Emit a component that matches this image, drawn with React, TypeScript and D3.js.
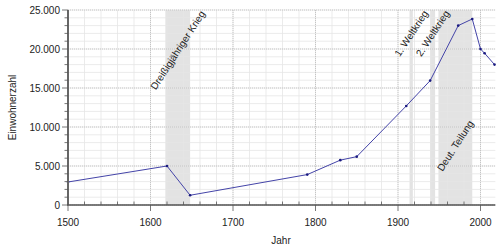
import React from "react";
import * as d3 from "d3";

const years = [1500, 1620, 1648, 1790, 1830, 1850, 1910, 1939, 1973, 1990, 2000, 2005, 2017];
const population = [2950, 5000, 1250, 3900, 5750, 6200, 12700, 15950, 23000, 23850, 20000, 19450, 18000];

const periodLabels = ["Dreißigjähriger Krieg", "1. Weltkrieg", "2. Weltkrieg", "Deut. Teilung"];
const periodStart = [1618, 1914, 1939, 1949];
const periodEnd = [1648, 1918, 1945, 1990];
const periodAtTop = [true, true, true, false];

const yMajorTicks = [0, 5000, 10000, 15000, 20000, 25000];
const xMajorTicks = [1500, 1600, 1700, 1800, 1900, 2000];

const W = 500, H = 250;
const left = 68, right = 495.35, top = 10, bottom = 205;

export default function App() {
  const x = d3.scaleLinear().domain([1500, 2018]).range([left, right]);
  const y = d3.scaleLinear().domain([0, 25000]).range([bottom, top]);
  const xMinor = d3.range(1500, 2019, 20);
  const yMinor = d3.range(0, 25001, 1000);
  const fmt = (v: number) => d3.format(",")(v).replace(/,/g, ".");
  const line = d3.line<number>().x((_, i) => x(years[i])).y((d) => y(d));
  const font = "'Liberation Sans', Arial, sans-serif";
  const angle = -57;
  const rad = (Math.abs(angle) * Math.PI) / 180;
  const charW = 4.45;

  return (
    <svg width={W} height={H} style={{ position: "absolute", left: 0, top: 0 }} fontFamily={font}>
      <rect width={W} height={H} fill="#fff" />
      {periodStart.map((s, i) => (
        <rect key={"b" + i} x={x(s)} y={top} width={x(periodEnd[i]) - x(s)} height={bottom - top} fill="#e3e3e3" />
      ))}
      {xMinor.map((v) => (
        <line key={"xm" + v} x1={x(v)} x2={x(v)} y1={top} y2={bottom} stroke="#e6e6e6" strokeWidth={0.8} />
      ))}
      {yMinor.map((v) => (
        <line key={"ym" + v} x1={left} x2={right} y1={y(v)} y2={y(v)} stroke="#e6e6e6" strokeWidth={0.8} />
      ))}
      {xMajorTicks.map((v) => (
        <line key={"xM" + v} x1={x(v)} x2={x(v)} y1={top} y2={bottom} stroke="#bbb" strokeWidth={0.8} strokeDasharray="1,1" />
      ))}
      {yMajorTicks.map((v) => (
        <line key={"yM" + v} x1={left} x2={right} y1={y(v)} y2={y(v)} stroke="#bbb" strokeWidth={0.8} strokeDasharray="1,1" />
      ))}
      {periodLabels.map((t, i) => {
        const cx = x((periodStart[i] + periodEnd[i]) / 2);
        const half = (t.length * charW) / 2;
        const cy = periodAtTop[i] ? top + half * Math.sin(rad) + 1 : 170 - half * Math.sin(rad);
        return (
          <text key={"l" + i} transform={`translate(${cx},${cy}) rotate(${angle})`} textAnchor="middle" dominantBaseline="central" fontSize={10} fill="#222">
            {t}
          </text>
        );
      })}
      <path d={line(population) || ""} fill="none" stroke="#4444a8" strokeWidth={1} />
      {population.map((v, i) => (
        <circle key={"p" + i} cx={x(years[i])} cy={y(v)} r={1.3} fill="#1a1a80" />
      ))}
      {/* axes */}
      <line x1={left} x2={left} y1={top} y2={bottom} stroke="#666" strokeWidth={2} />
      <line x1={left - 1} x2={right} y1={bottom} y2={bottom} stroke="#555" strokeWidth={1.5} />
      {yMinor.map((v) => (
        <line key={"yt" + v} x1={left - (v % 5000 === 0 ? 6 : 3.5)} x2={left} y1={y(v)} y2={y(v)} stroke="#555" strokeWidth={0.8} />
      ))}
      {xMinor.map((v) => (
        v % 100 === 0 ? (
          <line key={"xt" + v} x1={x(v)} x2={x(v)} y1={bottom} y2={bottom + 6} stroke="#555" strokeWidth={0.8} />
        ) : (
          <line key={"xt" + v} x1={x(v)} x2={x(v)} y1={bottom - 3.5} y2={bottom} stroke="#555" strokeWidth={0.8} />
        )
      ))}
      {yMajorTicks.map((v) => (
        <text key={"yl" + v} x={left - 8} y={y(v)} textAnchor="end" dominantBaseline="central" fontSize={10} fill="#222">
          {fmt(v)}
        </text>
      ))}
      {xMajorTicks.map((v) => (
        <text key={"xl" + v} x={x(v)} y={222} textAnchor="middle" dominantBaseline="central" fontSize={10} fill="#222">
          {v}
        </text>
      ))}
      <text transform={`translate(12,${(top + bottom) / 2}) rotate(-90)`} textAnchor="middle" dominantBaseline="central" fontSize={10} fill="#222">
        Einwohnerzahl
      </text>
      <text x={281} y={240} textAnchor="middle" dominantBaseline="central" fontSize={10} fill="#222">
        Jahr
      </text>
    </svg>
  );
}
